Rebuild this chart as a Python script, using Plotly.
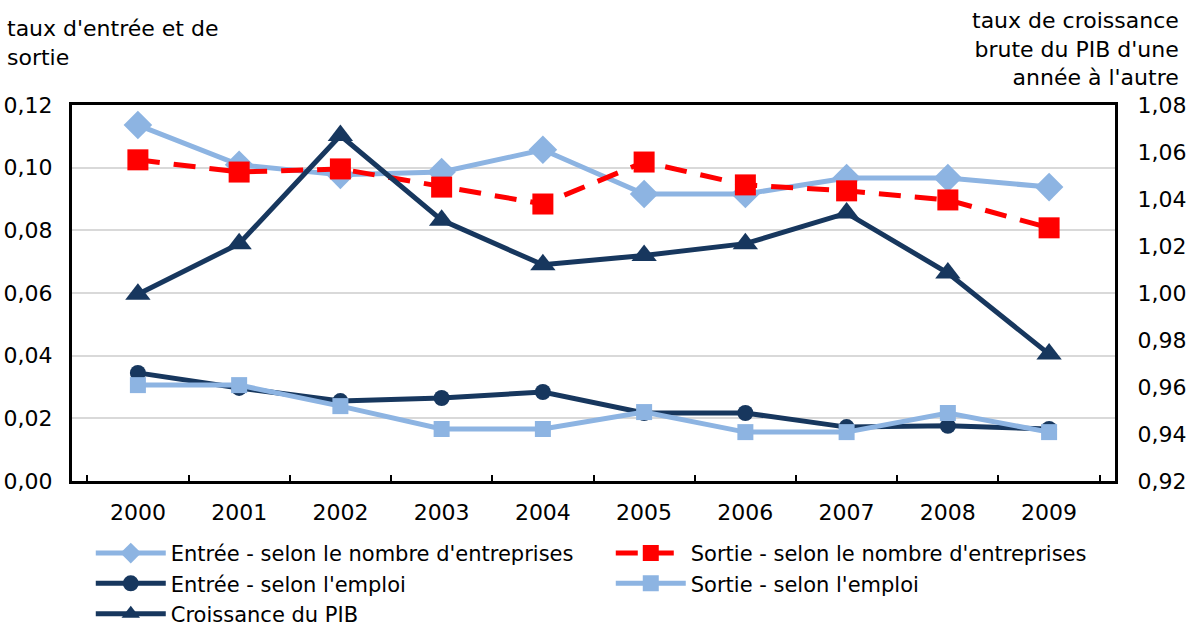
import plotly.graph_objects as go

annees = ["2000", "2001", "2002", "2003", "2004", "2005", "2006", "2007", "2008", "2009"]

entree_nombre = [0.1136, 0.1009, 0.0977, 0.0986, 0.1057, 0.0916, 0.0916, 0.0967, 0.0967, 0.0938]
sortie_nombre = [0.1025, 0.0986, 0.0996, 0.0938, 0.0884, 0.1018, 0.0945, 0.0926, 0.0897, 0.0808]
entree_emploi = [0.0345, 0.0297, 0.0255, 0.0265, 0.0284, 0.0217, 0.0217, 0.0172, 0.0176, 0.0166]
sortie_emploi = [0.0306, 0.0306, 0.0239, 0.0166, 0.0166, 0.0220, 0.0156, 0.0156, 0.0217, 0.0156]
croissance_pib = [0.9995, 1.0210, 1.0670, 1.0310, 1.0120, 1.0160, 1.0210, 1.0340, 1.0085, 0.9740]

gauche_ticks = [0.00, 0.02, 0.04, 0.06, 0.08, 0.10, 0.12]
droite_ticks = [0.92, 0.94, 0.96, 0.98, 1.00, 1.02, 1.04, 1.06, 1.08]

BLEU_CLAIR = "#8DB4E2"
MARINE = "#17375E"
ROUGE = "#FF0000"
POLICE = "DejaVu Sans"
TAILLE = 22

fig = go.Figure()

fig.add_trace(go.Scatter(
    x=annees, y=entree_nombre, name="Entrée - selon le nombre d'entreprises",
    mode="lines+markers", line=dict(color=BLEU_CLAIR, width=5),
    marker=dict(symbol="diamond", size=22, color=BLEU_CLAIR)))
fig.add_trace(go.Scatter(
    x=annees, y=sortie_nombre, name="Sortie - selon le nombre d'entreprises",
    mode="lines+markers", line=dict(color=ROUGE, width=5, dash="22px,14px"),
    marker=dict(symbol="square", size=21, color=ROUGE)))
fig.add_trace(go.Scatter(
    x=annees, y=entree_emploi, name="Entrée - selon l'emploi",
    mode="lines+markers", line=dict(color=MARINE, width=5),
    marker=dict(symbol="circle", size=16, color=MARINE)))
fig.add_trace(go.Scatter(
    x=annees, y=sortie_emploi, name="Sortie - selon l'emploi",
    mode="lines+markers", line=dict(color=BLEU_CLAIR, width=5),
    marker=dict(symbol="square", size=16, color=BLEU_CLAIR)))
fig.add_trace(go.Scatter(
    x=annees, y=croissance_pib, name="Croissance du PIB", yaxis="y2",
    mode="lines+markers", line=dict(color=MARINE, width=5),
    marker=dict(symbol="triangle-up", size=22, color=MARINE)))

fig.update_layout(
    width=1189, height=626,
    margin=dict(l=72, r=74, t=105, b=145, autoexpand=False),
    paper_bgcolor="white", plot_bgcolor="white",
    separators=", ",
    font=dict(family=POLICE, size=TAILLE, color="#000000"),
    showlegend=True,
    legend=dict(
        orientation="h", x=0.018, xanchor="left", y=-0.138, yanchor="top",
        entrywidth=435, entrywidthmode="pixels", tracegroupgap=0,
        font=dict(family=POLICE, size=21), itemwidth=70,
        bgcolor="rgba(0,0,0,0)"),
    xaxis=dict(
        type="category", showgrid=False, tickson="boundaries",
        ticks="inside", ticklen=6, tickwidth=2, tickcolor="black",
        showline=True, linecolor="black", linewidth=3, mirror=True,
        ticklabelstandoff=10, automargin=False,
        tickfont=dict(family=POLICE, size=TAILLE), zeroline=False),
    yaxis=dict(
        range=[0, 0.12], tickvals=gauche_ticks, tickformat=".2f",
        showgrid=True, gridcolor="#D9D9D9", gridwidth=2,
        showline=True, linecolor="black", linewidth=3,
        ticks="", zeroline=False, ticklabelstandoff=12, automargin=False,
        tickfont=dict(family=POLICE, size=TAILLE)),
    yaxis2=dict(
        range=[0.92, 1.08], tickvals=droite_ticks, tickformat=".2f",
        overlaying="y", side="right", showgrid=False,
        showline=True, linecolor="black", linewidth=3,
        ticks="", zeroline=False, ticklabelstandoff=15, automargin=False,
        tickfont=dict(family=POLICE, size=TAILLE)),
)

fig.add_annotation(
    text="taux d'entrée et de<br>sortie", xref="paper", yref="paper",
    x=-0.064, y=1.242, xanchor="left", yanchor="top", align="left",
    showarrow=False, font=dict(family=POLICE, size=TAILLE))
fig.add_annotation(
    text="taux de croissance<br>brute du PIB d'une<br>année à l'autre", xref="paper", yref="paper",
    x=1.063, y=1.262, xanchor="right", yanchor="top", align="right",
    showarrow=False, font=dict(family=POLICE, size=TAILLE))

fig.write_html("out.html")
